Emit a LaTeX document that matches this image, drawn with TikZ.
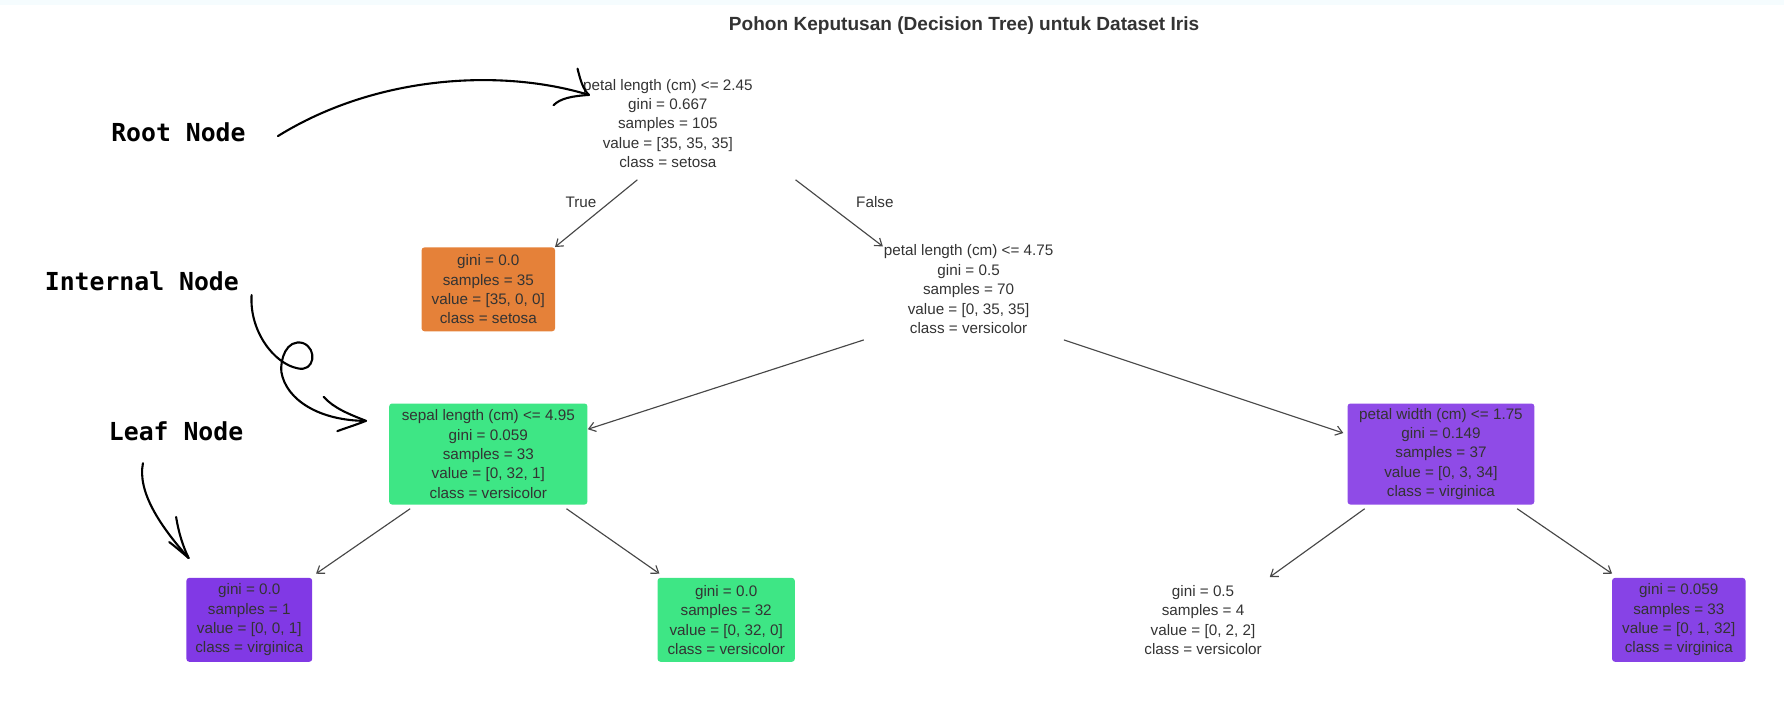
\documentclass[tikz,border=0pt]{standalone}
\usepackage{fontspec}
\setmainfont{Liberation Sans}
\newfontfamily\annofont{DejaVu Sans Mono}
\usetikzlibrary{arrows.meta}

\definecolor{setosacol}{HTML}{E58139}
\definecolor{versicol}{HTML}{3EE685}
\definecolor{virgcol}{HTML}{8139E5}
\definecolor{virglight}{HTML}{8F4BE7}
\definecolor{treetext}{HTML}{333333}

\tikzset{
  tree/.style={align=center, font=\fontsize{8}{10.2}\selectfont, text=treetext, inner sep=2pt},
  leaf/.style={tree, rounded corners=1.5pt, minimum width=#1, minimum height=44pt},
  edge/.style={draw=treetext!90, line width=0.6pt, -{Straight Barb[length=3.5pt,width=5pt]}},
  anno/.style={font=\annofont\bfseries\fontsize{13}{15}\selectfont},
  sketch/.style={line width=1.1pt, line cap=round, line join=round},
}

\begin{document}
\begin{tikzpicture}[x=0.6pt, y=-0.6pt]
\useasboundingbox (0,0) rectangle (1560,615);
\fill[cyan!4] (0,0) rectangle (1560,4);

\node[font=\bfseries\fontsize{10}{12}\selectfont, text=treetext] (title) at (843,22) {Pohon Keputusan (Decision Tree) untuk Dataset Iris};

% tree
\node[tree] (root) at (584,108) {petal length (cm) <= 2.45\\gini = 0.667\\samples = 105\\value = [35, 35, 35]\\class = setosa};
\node[leaf=70pt, fill=setosacol] (setosa) at (427,253) {gini = 0.0\\samples = 35\\value = [35, 0, 0]\\class = setosa};
\node[tree] (mid) at (847,253) {petal length (cm) <= 4.75\\gini = 0.5\\samples = 70\\value = [0, 35, 35]\\class = versicolor};
\node[leaf=104pt, minimum height=53pt, fill=versicol] (sepal) at (427,397) {sepal length (cm) <= 4.95\\gini = 0.059\\samples = 33\\value = [0, 32, 1]\\class = versicolor};
\node[leaf=98pt, minimum height=53pt, fill=virglight] (pwidth) at (1260,397) {petal width (cm) <= 1.75\\gini = 0.149\\samples = 37\\value = [0, 3, 34]\\class = virginica};
\node[leaf=66pt, fill=virgcol] (virgA) at (218,542) {gini = 0.0\\samples = 1\\value = [0, 0, 1]\\class = virginica};
\node[leaf=72pt, fill=versicol] (versA) at (635,542) {gini = 0.0\\samples = 32\\value = [0, 32, 0]\\class = versicolor};
\node[tree] (versB) at (1052,542) {gini = 0.5\\samples = 4\\value = [0, 2, 2]\\class = versicolor};
\node[leaf=70pt, fill=virgcol!95!white] (virgB) at (1468,542) {gini = 0.059\\samples = 33\\value = [0, 1, 32]\\class = virginica};

\draw[edge] ([xshift=-16pt,yshift=-4pt]root.south) -- ([xshift=35pt]setosa.north);
\draw[edge] ([xshift=67pt,yshift=-4pt]root.south) -- ([xshift=-45pt,yshift=-3pt]mid.north);
\node[tree] (ltrue) at (508,177) {True};
\node[tree] (lfalse) at (765,177) {False};
\draw[edge] ([xshift=-55pt,yshift=-1pt]mid.south) -- ([yshift=13pt]sepal.east);
\draw[edge] ([xshift=50pt,yshift=-1pt]mid.south) -- ([xshift=-2pt,yshift=11pt]pwidth.west);
\draw[edge] ([xshift=-41pt,yshift=-2pt]sepal.south) -- ([xshift=35pt,yshift=2pt]virgA.north);
\draw[edge] ([xshift=41pt,yshift=-2pt]sepal.south) -- ([xshift=-35pt,yshift=2pt]versA.north);
\draw[edge] ([xshift=-40pt,yshift=-2pt]pwidth.south) -- ([xshift=35pt,yshift=2pt]versB.north);
\draw[edge] ([xshift=40pt,yshift=-2pt]pwidth.south) -- ([xshift=-35pt,yshift=2pt]virgB.north);

% annotations
\node[anno] (rootlbl) at (156,116) {Root Node};
\node[anno] (intlbl) at (124,246) {Internal Node};
\node[anno] (leaflbl) at (154,377) {Leaf Node};

\coordinate (rootend) at (515,83);
\draw[sketch] (243,119) .. controls (330,65) and (440,60) .. (rootend);
\draw[sketch] (505,60) .. controls (508,72) and (510,78) .. (rootend) .. controls (500,84) and (490,86) .. (484,92);

\coordinate (intend) at (320,368);
\draw[sketch] (220,258) .. controls (218,290) and (240,318) .. (260,322)
  .. controls (275,326) and (278,305) .. (265,300)
  .. controls (250,296) and (245,315) .. (246,325)
  .. controls (250,350) and (280,368) .. (intend);
\draw[sketch] (283,347) .. controls (292,357) and (305,362) .. (intend) .. controls (310,372) and (300,375) .. (295,377);

\coordinate (leafend) at (165,488);
\draw[sketch] (125,405) .. controls (120,430) and (140,460) .. (leafend);
\draw[sketch] (154,452) .. controls (156,465) and (160,478) .. (leafend) .. controls (158,482) and (152,477) .. (148,474);
\end{tikzpicture}
\end{document}
